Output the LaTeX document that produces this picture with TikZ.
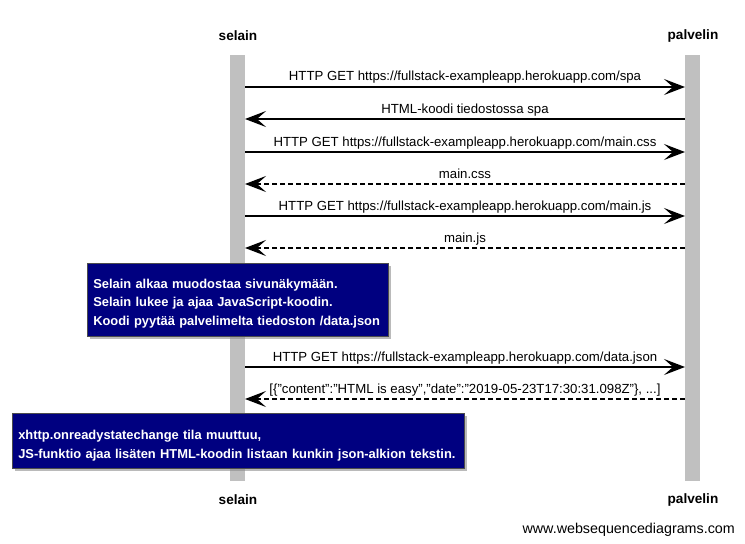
\documentclass[tikz,border=0pt]{standalone}
\usepackage{fontspec}
\setmainfont{Liberation Sans}
\usetikzlibrary{arrows.meta,shadows}
\definecolor{lifegray}{RGB}{192,192,192}
\definecolor{notenavy}{RGB}{0,0,128}
\tikzset{
  lifebar/.style={fill=lifegray,draw=none,minimum width=15pt,minimum height=426pt,inner sep=0pt},
  actor/.style={font=\fontsize{13.6}{15}\selectfont\bfseries,inner sep=0pt},
  msg/.style={line width=1.8pt,-{Stealth[length=21pt,width=16pt,inset=9pt]}},
  reply/.style={msg,dash pattern=on 5pt off 3pt},
  msglabel/.style={font=\fontsize{13.2}{15}\selectfont,inner sep=0pt,anchor=base},
  notebox/.style={fill=notenavy,draw=black!70,line width=0.5pt,text=white,
    font=\fontsize{12.9}{18.8}\selectfont\bfseries,align=left,anchor=north west,
    inner xsep=6pt,inner ysep=0pt,
    drop shadow={shadow xshift=3pt,shadow yshift=-3pt,fill=black!45,opacity=0.6}},
}
\begin{document}
\begin{tikzpicture}[x=1pt,y=-1pt]
\useasboundingbox (0,0) rectangle (745,544);
\fill[white] (0,0) rectangle (745,544);
% lifelines
\node[lifebar] (sbar) at (237.5,268) {};
\node[lifebar] (pbar) at (692.5,268) {};
\node[actor] (stop) at (238,36) {selain};
\node[actor] (ptop) at (693,36) {palvelin};
\node[actor] (sbot) at (238,500) {selain};
\node[actor] (pbot) at (693,500) {palvelin};
% message anchor points
\foreach \n/\y in {1/87,2/119,3/152,4/184,5/216,6/248,7/367,8/399}{
  \coordinate (s\n) at (245,\y);
  \coordinate (p\n) at (685,\y);
}
\draw[msg] (s1) -- (p1);
\node[msglabel] (l1) at (465,80) {HTTP GET https://fullstack-exampleapp.herokuapp.com/spa};
\draw[msg] (p2) -- (s2);
\node[msglabel] (l2) at (465,113) {HTML-koodi tiedostossa spa};
\draw[msg] (s3) -- (p3);
\node[msglabel] (l3) at (465,146) {HTTP GET https://fullstack-exampleapp.herokuapp.com/main.css};
\draw[reply] (p4) -- (s4);
\node[msglabel] (l4) at (465,178) {main.css};
\draw[msg] (s5) -- (p5);
\node[msglabel] (l5) at (465,210) {HTTP GET https://fullstack-exampleapp.herokuapp.com/main.js};
\draw[reply] (p6) -- (s6);
\node[msglabel] (l6) at (465,242) {main.js};
% note 1
\node[notebox,minimum width=301pt,minimum height=73pt,text width=289pt] (n1) at (87,263)
  {\rule{0pt}{17pt}\mbox{Selain alkaa muodostaa sivunäkymään.}\\\mbox{Selain lukee ja ajaa JavaScript-koodin.}\\\mbox{Koodi pyytää palvelimelta tiedoston /data.json}};
\draw[msg] (s7) -- (p7);
\node[msglabel] (l7) at (465,361) {HTTP GET https://fullstack-exampleapp.herokuapp.com/data.json};
\draw[reply] (p8) -- (s8);
\node[msglabel] (l8) at (465,393) {[\{"content":"HTML is easy","date":"2019-05-23T17:30:31.098Z"\}, ...]};
% note 2
\node[notebox,minimum width=452pt,minimum height=55pt,text width=440pt] (n2) at (12,413)
  {\rule{0pt}{19pt}\mbox{xhttp.onreadystatechange tila muuttuu,}\\\mbox{JS-funktio ajaa lisäten HTML-koodin listaan kunkin json-alkion tekstin.}};
% footer
\node[font=\fontsize{14.3}{16}\selectfont,anchor=base east,inner sep=0pt] (foot) at (735,533) {www.websequencediagrams.com};
\end{tikzpicture}
\end{document}
